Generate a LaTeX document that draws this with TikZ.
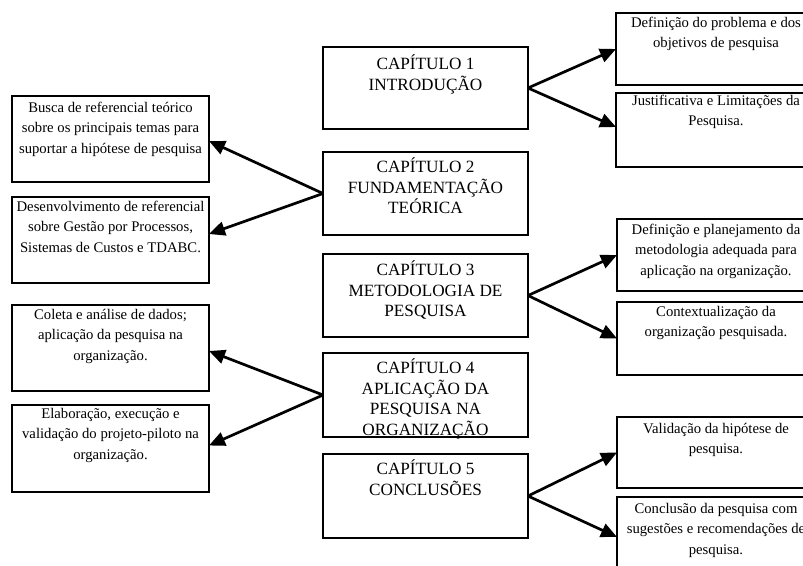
\documentclass[tikz,border=0pt]{standalone}
\usepackage{fontspec}
\setmainfont{Liberation Serif}
\usetikzlibrary{arrows.meta}
\begin{document}
\begin{tikzpicture}[x=1pt,y=-1pt,
  chapbox/.style={draw, line width=1.6pt, inner sep=0pt, outer sep=0pt,
    minimum width=205pt, anchor=north west},
  leftbox/.style={draw, line width=1.6pt, inner sep=0pt, outer sep=0pt,
    minimum width=197pt, anchor=north west},
  rightbox/.style={draw, line width=2.2pt, inner sep=0pt, outer sep=0pt,
    minimum width=198pt, anchor=north west},
  chaptext/.style={anchor=north, align=center, inner sep=0pt,
    font=\fontsize{17.2}{20.5}\selectfont, execute at begin node=\strut},
  itemtext/.style={anchor=north, align=center, inner sep=0pt,
    font=\fontsize{14.7}{20.5}\selectfont, execute at begin node=\strut},
  link/.style={line width=2.7pt, -{Triangle[length=16pt,width=14pt]}}]

\clip (0,0) rectangle (803,565);

% chapter boxes (centre column)
\node[chapbox, minimum height=82pt] (c1) at (323,47) {};
\node[chapbox, minimum height=83pt] (c2) at (323,152) {};
\node[chapbox, minimum height=83pt] (c3) at (323,254) {};
\node[chapbox, minimum height=84pt] (c4) at (323,353) {};
\node[chapbox, minimum height=84pt] (c5) at (323,454) {};

\node[chaptext] (c1t) at (425.5,55) {CAPÍTULO 1\\INTRODUÇÃO};
\node[chaptext] (c2t) at (425.5,158) {CAPÍTULO 2\\FUNDAMENTAÇÃO\\TEÓRICA};
\node[chaptext] (c3t) at (425.5,261) {CAPÍTULO 3\\METODOLOGIA DE\\PESQUISA};
\node[chaptext] (c4t) at (425.5,359) {CAPÍTULO 4\\APLICAÇÃO DA\\PESQUISA NA\\ORGANIZAÇÃO};
\node[chaptext] (c5t) at (425.5,460) {CAPÍTULO 5\\CONCLUSÕES};

% left column
\node[leftbox, minimum height=86pt] (l1) at (12,96) {};
\node[leftbox, minimum height=86pt] (l2) at (12,197) {};
\node[leftbox, minimum height=86pt] (l3) at (12,305) {};
\node[leftbox, minimum height=87pt] (l4) at (12,405) {};

\node[itemtext] (l1t) at (110.5,101.5) {Busca de referencial teórico\\sobre os principais temas para\\suportar a hipótese de pesquisa};
\node[itemtext] (l2t) at (110.5,200.6) {Desenvolvimento de referencial\\sobre Gestão por Processos,\\Sistemas de Custos e TDABC.};
\node[itemtext] (l3t) at (110.5,308.6) {Coleta e análise de dados;\\aplicação da pesquisa na\\organização.};
\node[itemtext] (l4t) at (110.5,407.6) {Elaboração, execução e\\validação do projeto-piloto na\\organização.};

% right column
\node[rightbox, minimum height=72pt] (r1) at (616,13) {};
\node[rightbox, minimum height=74pt] (r2) at (616,93) {};
\node[rightbox, minimum height=72pt] (r3) at (617,219) {};
\node[rightbox, minimum height=73pt] (r4) at (617,302) {};
\node[rightbox, minimum height=71pt] (r5) at (617,417) {};
\node[rightbox, minimum height=80pt] (r6) at (617,497) {};

\node[itemtext] (r1t) at (716,16.6) {Definição do problema e dos\\objetivos de pesquisa};
\node[itemtext] (r2t) at (716,94.6) {Justificativa e Limitações da\\Pesquisa.};
\node[itemtext] (r3t) at (716,223.6) {Definição e planejamento da\\metodologia adequada para\\aplicação na organização.};
\node[itemtext] (r4t) at (716,305.6) {Contextualização da\\organização pesquisada.};
\node[itemtext] (r5t) at (716,422.6) {Validação da hipótese de\\pesquisa.};
\node[itemtext] (r6t) at (716,502.6) {Conclusão da pesquisa com\\sugestões e recomendações de\\pesquisa.};

% connectors
\draw[link] (c1.east) -- (r1.west);
\draw[link] (c1.east) -- ([yshift=3pt]r2.west);
\draw[link] (c2.west) -- ([yshift=-2pt]l1.east);
\draw[link] (c2.west) -- ([yshift=6pt]l2.east);
\draw[link] (c3.east) -- (r3.west);
\draw[link] (c3.east) -- (r4.west);
\draw[link] (c4.west) -- ([yshift=-3pt]l3.east);
\draw[link] (c4.west) -- ([yshift=3pt]l4.east);
\draw[link] (c5.east) -- (r5.west);
\draw[link] (c5.east) -- (r6.west);
\end{tikzpicture}
\end{document}
